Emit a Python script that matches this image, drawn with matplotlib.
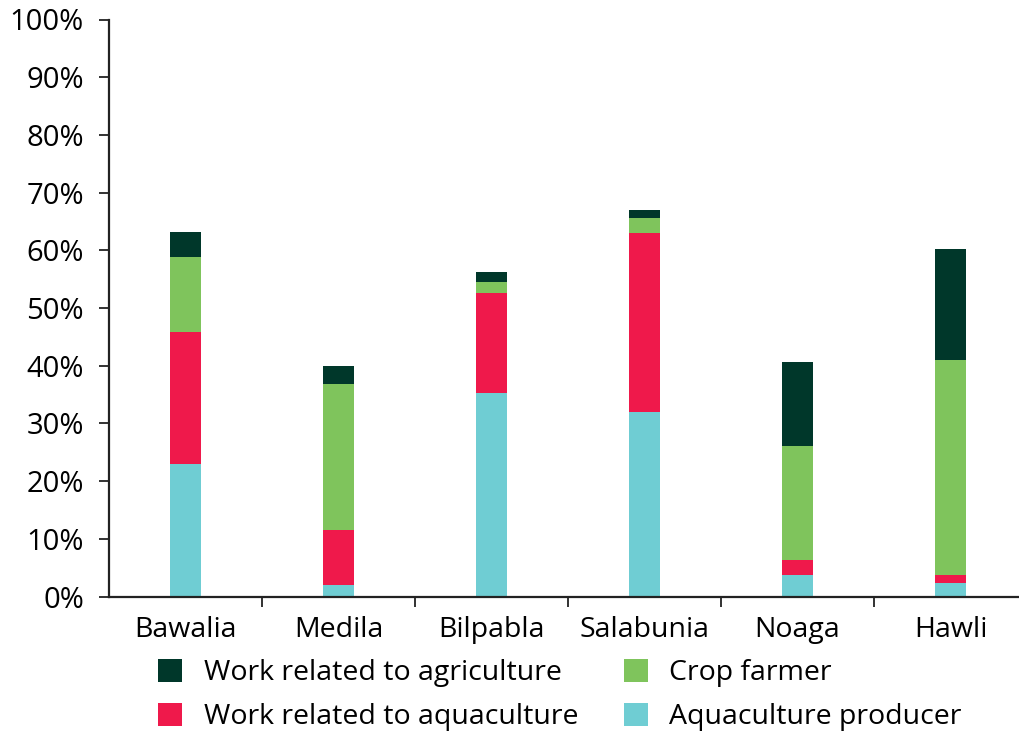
import matplotlib.pyplot as plt
import numpy as np

# values (percent of households)
villages = ["Bawalia", "Medila", "Bilpabla", "Salabunia", "Noaga", "Hawli"]
aqua_producer = [23.0, 2.0, 35.3, 32.0, 3.7, 2.3]
work_aqua = [22.8, 9.5, 17.3, 31.0, 2.6, 1.4]
crop_farmer = [13.0, 25.3, 1.9, 2.6, 19.8, 37.3]
work_agri = [4.4, 3.1, 1.7, 1.4, 14.5, 19.2]

c_dark = "#00372a"
c_green = "#7fc45c"
c_red = "#ef194b"
c_aqua = "#6fcdd3"

plt.rcParams['font.family'] = ['Open Sans', 'DejaVu Sans']

fig = plt.figure(figsize=(10.2, 7.31), dpi=100)
ax = fig.add_axes([109 / 1020, (731 - 596.5) / 731, 918 / 1020, 577 / 731])

x = np.arange(len(villages))
w = 0.203
b1 = np.array(aqua_producer)
b2 = b1 + np.array(work_aqua)
b3 = b2 + np.array(crop_farmer)

h_aqua = ax.bar(x, aqua_producer, w, color=c_aqua, label="Aquaculture producer")
h_red = ax.bar(x, work_aqua, w, bottom=b1, color=c_red, label="Work related to aquaculture")
h_green = ax.bar(x, crop_farmer, w, bottom=b2, color=c_green, label="Crop farmer")
h_dark = ax.bar(x, work_agri, w, bottom=b3, color=c_dark, label="Work related to agriculture")

ax.set_xlim(-0.5, len(villages) - 0.5)
ax.set_ylim(0, 100)
ax.set_yticks(range(0, 101, 10))
ax.set_yticklabels(["{}%".format(v) for v in range(0, 101, 10)], fontsize=21)
ax.set_xticks(x)
ax.set_xticklabels(villages, fontsize=20.5)
ax.set_xticks(np.arange(0.5, len(villages) - 0.5, 1), minor=True)
ax.tick_params(axis='x', which='major', length=0, pad=14)
ax.tick_params(axis='x', which='minor', length=7, width=1.3, color="#222222")
ax.tick_params(axis='y', length=7, width=1.3, color="#222222", pad=11)

for s in ["top", "right"]:
    ax.spines[s].set_visible(False)
for s in ["left", "bottom"]:
    ax.spines[s].set_linewidth(1.6)
    ax.spines[s].set_color("#222222")

fig.legend([h_dark, h_red, h_green, h_aqua],
           ["Work related to agriculture", "Work related to aquaculture",
            "Crop farmer", "Aquaculture producer"],
           ncol=2, loc="upper left", bbox_to_anchor=(158 / 1020, 1 - 659 / 731),
           frameon=False, fontsize=20.5, handlelength=0.85, handleheight=0.85,
           handletextpad=0.75, columnspacing=1.6, labelspacing=0.55,
           borderaxespad=0, borderpad=0)

plt.savefig("out.png", dpi=100)
